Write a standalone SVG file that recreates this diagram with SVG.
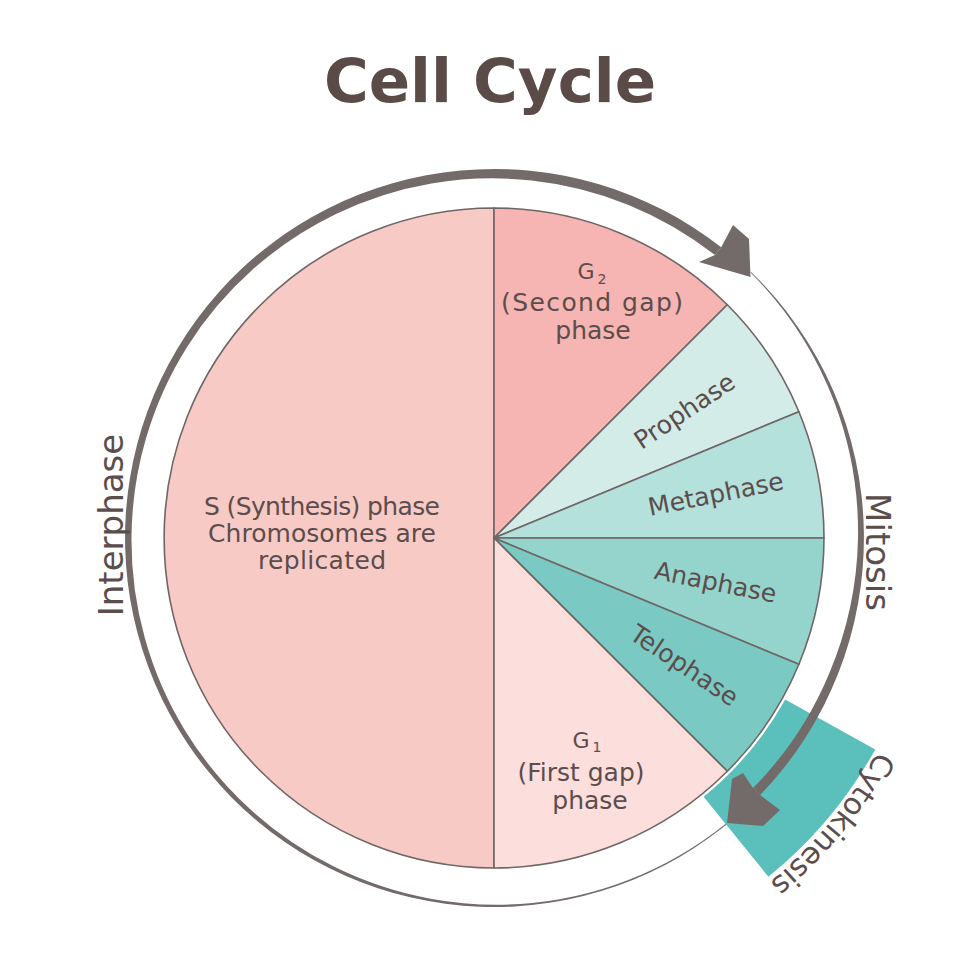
<svg xmlns="http://www.w3.org/2000/svg" width="980" height="980" viewBox="0 0 980 980">
<style>
.seg{stroke:#6f6666;stroke-width:1.6;stroke-linejoin:round}
.lbl{font-family:"DejaVu Sans","Liberation Sans",sans-serif;font-size:25px;fill:#5b4d4c;text-anchor:middle}
.big{font-family:"DejaVu Sans","Liberation Sans",sans-serif;font-size:34px;fill:#5b4d4c;text-anchor:middle}
.arr{fill:#736a6a}
</style>
<rect width="980" height="980" fill="#ffffff"/>
<g id="title">
<text x="490" y="102" font-family="'DejaVu Sans','Liberation Sans',sans-serif" font-weight="bold" font-size="61" fill="#5a4a48" text-anchor="middle">Cell Cycle</text>
</g>
<g id="node-s-phase">
<path class="seg" fill="#f8cac5" d="M494,538 L494,208 A330,330 0 0 0 494,868 Z"/>
<text class="lbl" font-size="23" x="322" y="515" textLength="236" lengthAdjust="spacing">S (Synthesis) phase</text>
<text class="lbl" font-size="23" x="322" y="542" textLength="228" lengthAdjust="spacing">Chromosomes are</text>
<text class="lbl" font-size="23" x="322" y="569" textLength="128" lengthAdjust="spacing">replicated</text>
</g>
<g id="node-g2">
<path class="seg" fill="#f6b4b2" d="M494,538 L494,208 A330,330 0 0 1 727.3,304.7 Z"/>
<text class="lbl" x="592" y="279"><tspan font-size="22">G</tspan><tspan font-size="14" dx="3" dy="5">2</tspan></text>
<text class="lbl" x="592" y="311" textLength="182" lengthAdjust="spacing">(Second gap)</text>
<text class="lbl" x="593" y="339">phase</text>
</g>
<g id="node-prophase">
<path class="seg" fill="#d4ece7" d="M494,538 L727.3,304.7 A330,330 0 0 1 798.9,411.7 Z"/>
<text class="lbl" transform="translate(684.4,410.8) rotate(-33.75)" dy=".35em">Prophase</text>
</g>
<g id="node-metaphase">
<path class="seg" fill="#b4e1dc" d="M494,538 L798.9,411.7 A330,330 0 0 1 824,538 Z"/>
<text class="lbl" transform="translate(715.7,493.9) rotate(-11.25)" dy=".35em">Metaphase</text>
</g>
<g id="node-anaphase">
<path class="seg" fill="#95d4cd" d="M494,538 L824,538 A330,330 0 0 1 798.9,664.3 Z"/>
<text class="lbl" transform="translate(715.7,582.1) rotate(11.25)" dy=".35em">Anaphase</text>
</g>
<g id="node-telophase">
<path class="seg" fill="#7acac3" d="M494,538 L798.9,664.3 A330,330 0 0 1 727.3,771.3 Z"/>
<text class="lbl" transform="translate(684.4,665.2) rotate(33.75)" dy=".35em">Telophase</text>
</g>
<g id="node-g1">
<path class="seg" fill="#fcdedc" d="M494,538 L727.3,771.3 A330,330 0 0 1 494,868 Z"/>
<text class="lbl" x="587" y="748"><tspan font-size="22">G</tspan><tspan font-size="14" dx="3" dy="4">1</tspan></text>
<text class="lbl" x="581" y="781">(First gap)</text>
<text class="lbl" x="590" y="809">phase</text>
</g>
<g id="connectors">
<path id="interphase-arc" class="arr" d="M736.1,816.5 A369,369 0 1 1 721.2,247.2 L715.0,255.1 A359.5,359.5 0 0 0 531.6,180.5 A360.5,360.5 0 0 0 336.0,214.0 A361.5,361.5 0 0 0 187.4,346.4 A362.5,362.5 0 0 0 131.5,538 A364,364 0 0 0 185.3,730.9 A365.5,365.5 0 0 0 333.8,866.5 A367,367 0 0 0 532.4,903.0 A368,368 0 0 0 735.4,815.7 Z"/>
<polygon id="interphase-head" class="arr" points="721.2,247.2 733,225 749,239 750.5,277 699,262 715,255.1"/>
</g>
<g id="node-cytokinesis">
<path fill="#5bc0bb" d="M785.2,699.4 L875.3,749.4 A436,436 0 0 1 768.4,876.8 L703.6,796.8 A333,333 0 0 0 785.2,699.4 Z"/>
<path id="cyto-path" fill="none" d="M878.6,748.9 A442,442 0 0 1 715,920.8"/>
<text font-family="'DejaVu Sans','Liberation Sans',sans-serif" font-size="30" fill="#5b4d4c"><textPath href="#cyto-path" startOffset="2">Cytokinesis</textPath></text>
</g>
<g id="connectors-mitosis">
<path id="mitosis-arc" class="arr" d="M751.0,271.9 A370,370 0 0 1 760.1,795.0 L753.0,788.1 A361.5,361.5 0 0 0 829.2,673.4 A364,364 0 0 0 858,538 A366.5,366.5 0 0 0 833.8,400.7 A369,369 0 0 0 750.5,272.4 Z"/>
<polygon id="mitosis-head" class="arr" points="760.1,795 780,810 763,826 727,823 732,779 743,773 753,788.1"/>
</g>
<g id="phase-labels">
<text class="big" transform="translate(123,525) rotate(-90)">Interphase</text>
<text class="big" transform="translate(866,552) rotate(90)">Mitosis</text>
</g>
</svg>
